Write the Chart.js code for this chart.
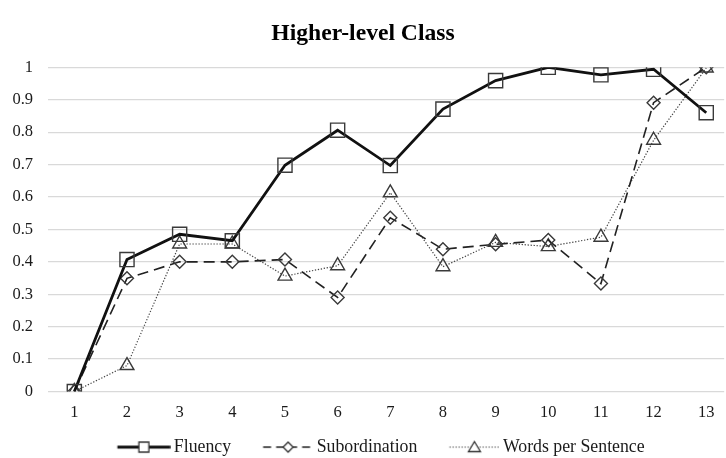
<!DOCTYPE html>
<html>
<head>
<meta charset="utf-8">
<script src="https://cdn.jsdelivr.net/npm/chart.js@4.4.1/dist/chart.umd.min.js"></script>
<style>
  html, body { margin: 0; padding: 0; background: #fff; overflow: hidden; }
</style>
</head>
<body>
<canvas id="chart" width="726" height="458"></canvas>
<script>
// Values
const categories = [1, 2, 3, 4, 5, 6, 7, 8, 9, 10, 11, 12, 13];
const fluency = [0, 0.407, 0.485, 0.465, 0.698, 0.806, 0.697, 0.871, 0.959, 1.0, 0.977, 0.994, 0.86];
const subordination = [0, 0.349, 0.4, 0.4, 0.407, 0.29, 0.536, 0.439, 0.454, 0.467, 0.333, 0.891, 1.0];
const wordsPerSentence = [0, 0.08, 0.455, 0.455, 0.356, 0.388, 0.613, 0.385, 0.46, 0.447, 0.476, 0.775, 0.998];
const yTicks = [0, 0.1, 0.2, 0.3, 0.4, 0.5, 0.6, 0.7, 0.8, 0.9, 1];

const FONT = "'Liberation Serif', 'DejaVu Serif', serif";
const INK = "#1a1a1a";
const BOX_W = 65.6;

function toPoints(values) {
  return values.map((v, i) => ({ x: categories[i], y: v }));
}

// legend key: a line with the marker in the middle, pushed to the right
// side of the image so it sits right against the label text
function legendGlyph(len, dash, width, color, shape) {
  const c = document.createElement("canvas");
  c.width = 77;
  c.height = 14;
  const g = c.getContext("2d");
  const x1 = 76.7;
  const x0 = x1 - len;
  const mid = x0 + len / 2;
  g.strokeStyle = color;
  g.lineWidth = width;
  g.setLineDash(dash);
  g.beginPath();
  g.moveTo(x0, 7);
  g.lineTo(x1, 7);
  g.stroke();
  g.setLineDash([]);
  g.lineWidth = 1.3;
  g.fillStyle = "#fff";
  g.strokeStyle = "#333";
  g.beginPath();
  if (shape === "rect") {
    g.rect(mid - 5, 2, 10, 10);
  } else if (shape === "rectRot") {
    g.moveTo(mid, 2); g.lineTo(mid + 5, 7); g.lineTo(mid, 12); g.lineTo(mid - 5, 7); g.closePath();
  } else {
    g.moveTo(mid, 1.5); g.lineTo(mid + 6, 11.5); g.lineTo(mid - 6, 11.5); g.closePath();
  }
  g.fill();
  g.stroke();
  return c;
}

const glyphs = [
  legendGlyph(53, [], 2.8, "#111", "rect"),
  legendGlyph(50, [8, 5], 1.6, "#222", "rectRot"),
  legendGlyph(50, [1.3, 1.7], 1.2, "#444", "triangle")
];

// the legend row sits a little right of centre in the reference
const legendShift = {
  id: "legendShift",
  afterLayout(chart) {
    chart.legend.left += 9;
    chart.legend.right += 9;
  }
};

new Chart(document.getElementById("chart").getContext("2d"), {
  type: "line",
  plugins: [legendShift],
  data: {
    datasets: [
      {
        label: "Fluency",
        data: toPoints(fluency),
        borderColor: "#111",
        borderWidth: 2.8,
        pointStyle: "rect",
        pointRadius: 10,
        pointBorderWidth: 1.4,
        pointBorderColor: "#3a3a3a",
        pointBackgroundColor: "rgba(255,255,255,0)",
        tension: 0
      },
      {
        label: "Subordination",
        data: toPoints(subordination),
        borderColor: "#222",
        borderWidth: 1.6,
        borderDash: [11, 6],
        pointStyle: "rectRot",
        pointRadius: 6.5,
        pointBorderWidth: 1.4,
        pointBorderColor: "#3a3a3a",
        pointBackgroundColor: "rgba(255,255,255,0)",
        tension: 0
      },
      {
        label: "Words per Sentence",
        data: toPoints(wordsPerSentence),
        borderColor: "#444",
        borderWidth: 1.2,
        borderDash: [1.3, 1.7],
        pointStyle: "triangle",
        pointRadius: 8,
        pointBorderWidth: 1.4,
        pointBorderColor: "#3a3a3a",
        pointBackgroundColor: "rgba(255,255,255,0)",
        tension: 0
      }
    ]
  },
  options: {
    responsive: false,
    animation: false,
    layout: { autoPadding: false, padding: { left: 0, right: 0, top: 0, bottom: -8 } },
    plugins: {
      title: {
        display: true,
        text: "Higher-level Class",
        color: "#000",
        font: { family: FONT, size: 23.6, weight: "bold" },
        padding: { top: 20, bottom: 19 }
      },
      legend: {
        position: "bottom",
        labels: {
          color: INK,
          font: { family: FONT, size: 17.8 },
          usePointStyle: true,
          pointStyleWidth: BOX_W,
          boxHeight: 14,
          padding: 11,
          generateLabels(chart) {
            const items = Chart.defaults.plugins.legend.labels.generateLabels(chart);
            items.forEach((it, i) => { it.pointStyle = glyphs[i]; });
            return items;
          }
        }
      },
      tooltip: { enabled: false }
    },
    scales: {
      x: {
        type: "linear",
        min: 0.5,
        max: 13.34,
        afterBuildTicks(scale) {
          scale.ticks = categories.map(v => ({ value: v }));
        },
        afterFit(scale) {
          scale.height = 35.7;
        },
        grid: { display: false, drawTicks: false },
        border: { display: false },
        ticks: {
          color: INK,
          font: { family: FONT, size: 16.5 },
          padding: 11.5,
          maxRotation: 0,
          autoSkip: false,
          callback: v => String(v)
        }
      },
      y: {
        min: 0,
        max: 1,
        afterBuildTicks(scale) {
          scale.ticks = yTicks.map(v => ({ value: v }));
        },
        afterFit(scale) {
          scale.width = 48;
        },
        grid: { color: "#d9d9d9", lineWidth: 1.3, drawTicks: false },
        border: { display: false },
        ticks: {
          color: INK,
          font: { family: FONT, size: 16.5 },
          padding: 15,
          callback: v => String(Number(v.toFixed(1)))
        }
      }
    }
  }
});
</script>
</body>
</html>
